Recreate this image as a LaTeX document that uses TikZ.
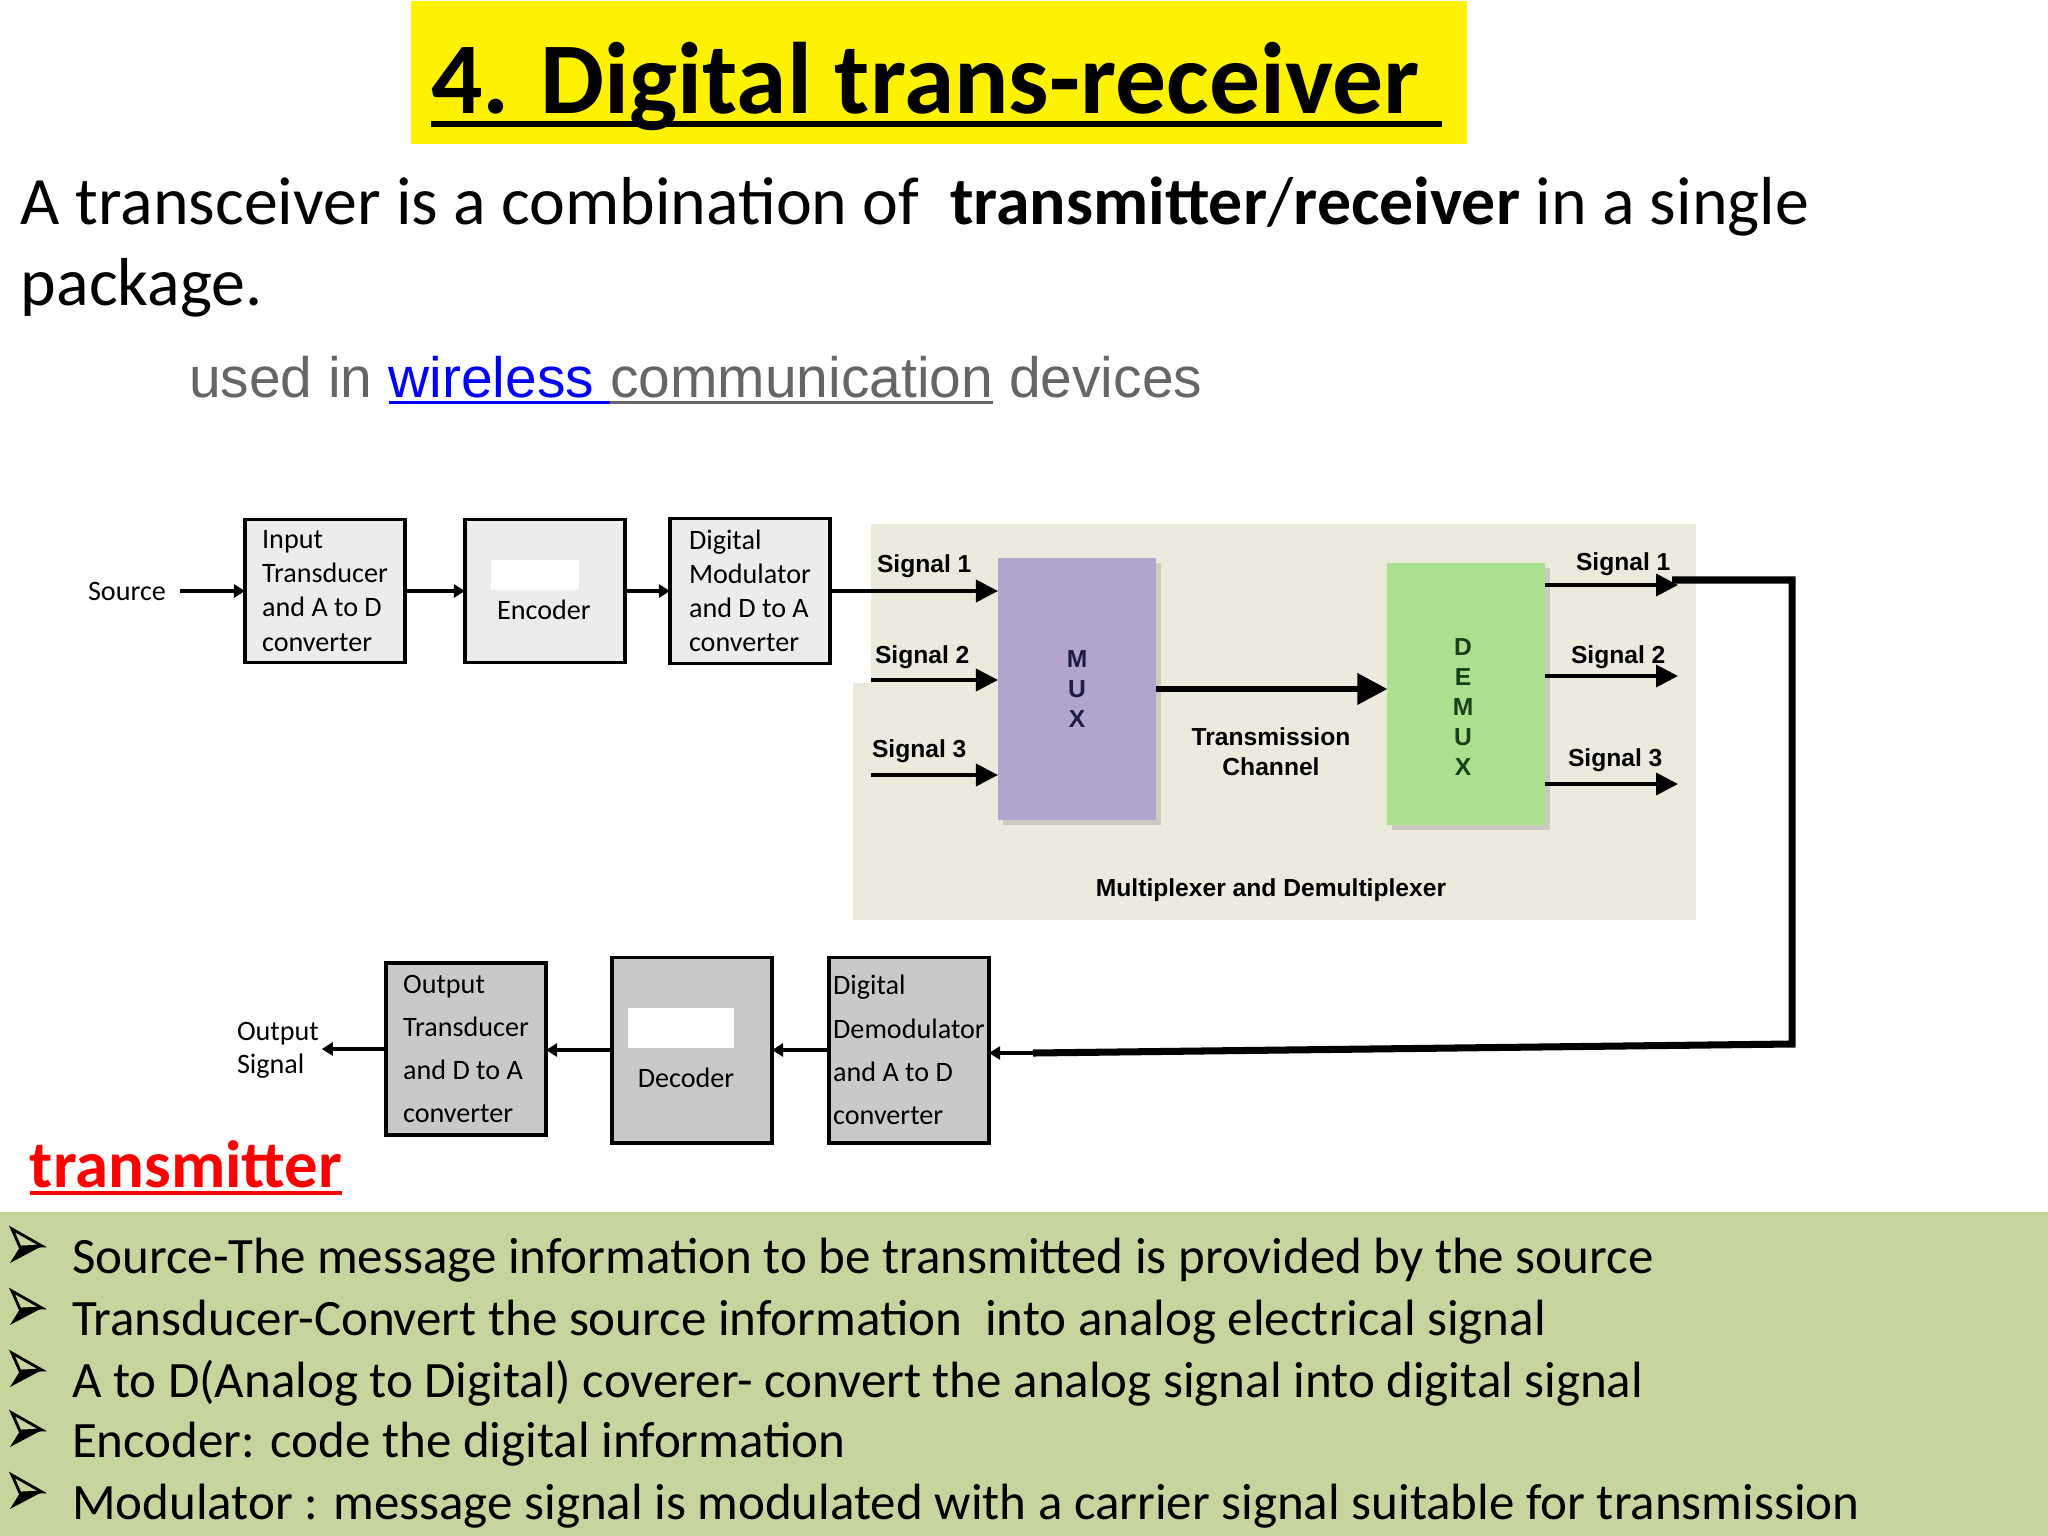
\documentclass[tikz,border=0pt]{standalone}
\usepackage{fontspec}
\setmainfont{Carlito}
\newfontfamily\arial{Liberation Sans}
\usepackage{xcolor}
\definecolor{panel}{RGB}{236,234,221}
\definecolor{muxcol}{RGB}{177,164,205}
\definecolor{demuxcol}{RGB}{169,225,142}
\definecolor{band}{RGB}{196,214,158}
\definecolor{boxtop}{RGB}{236,236,236}
\definecolor{boxbot}{RGB}{201,201,201}
\definecolor{usedgray}{RGB}{102,102,102}
\definecolor{muxtxt}{RGB}{30,28,70}
\definecolor{demuxtxt}{RGB}{25,65,25}
\usetikzlibrary{positioning}
\usetikzlibrary{arrows.meta,shadows}
% arrowhead bullet, #1 = baseline of its line
\newcommand{\arrowmark}[1]{%
  \draw[line width=0.8pt,line join=miter] (12,#1-44) -- (42,#1-27) -- (20,#1-26) -- cycle;
  \fill (20,#1-26) -- (42,#1-27) -- (10,#1-10) -- cycle;}

\begin{document}
\begin{tikzpicture}[x=0.01cm,y=-0.01cm,
  every node/.style={inner sep=0,outer sep=0},
  cal/.style={font=\fontsize{8}{9.7}\selectfont},
  ari/.style={font=\arial\bfseries\fontsize{7}{8.5}\selectfont},
  usedf/.style={font=\arial\fontsize{16.2}{19}\selectfont,text=usedgray},
  itm/.style={anchor=base west,font=\fontsize{14.5}{17}\selectfont},
  topbox/.style={draw,line width=1.1pt,fill=boxtop,minimum width=1.6cm,minimum height=1.43cm,
    align=left,cal},
  botbox/.style={draw,line width=1.1pt,fill=boxbot,minimum width=1.6cm,minimum height=1.85cm,
    align=left,font=\fontsize{8}{12.3}\selectfont},
  shade/.style={drop shadow={shadow xshift=0.05cm,shadow yshift=-0.05cm,opacity=0.3}},
  arr/.style={-{Triangle[length=0.11cm,width=0.13cm]},line width=1.2pt},
  sig/.style={-{Triangle[length=0.22cm,width=0.22cm]},line width=1.1pt},
  tx/.style={-{Triangle[length=0.3cm,width=0.3cm]},line width=1.8pt},
  fb/.style={line width=2pt}
]
\useasboundingbox (0,0) rectangle (2048,1536);

% heading
\fill[yellow] (411,1) rectangle (1467,144);
\node[anchor=base west,font=\bfseries\fontsize{28.9}{35}\selectfont] (ttl) at (431,113) {4. Digital trans-receiver};
\draw[line width=1.7pt] ([yshift=-3pt]ttl.base west) -- ([yshift=-3pt,xshift=0.22cm]ttl.base east);

\node[anchor=base west,font=\fontsize{19.3}{23}\selectfont] (l1) at (21,224)
  {A transceiver is a combination of~ \textbf{transmitter}/\textbf{receiver} in a single};
\node[anchor=base west,font=\fontsize{19.3}{23}\selectfont] (l2) at (21,305) {package.};

\node[usedf,anchor=base west] (used) at (189,397) {used in};
\node[usedf,text=blue,base right=4.5pt of used] (wl) {wireless};
\node[usedf,base right=4.5pt of wl] (comm) {communication};
\node[usedf,base right=4.5pt of comm] (dev) {devices};
\draw[blue,line width=0.85pt] ([yshift=-1.5pt]wl.base west) -- ([yshift=-1.5pt]comm.base west);
\draw[usedgray,line width=0.85pt] ([yshift=-1.5pt]comm.base west) -- ([yshift=-1.5pt]comm.base east);

% mux / demux panel
\fill[panel] (871,524) -- (1696,524) -- (1696,920) -- (853,920) -- (853,683) -- (871,683) -- cycle;

% transmitter row
\node[cal] (src) at (127,591) {Source};
\node[topbox] (in) at (325,591) {Input\\Transducer\\and A to D\\converter};
\node[topbox] (enc) at (545,591) {};
\node[fill=white,minimum width=0.88cm,minimum height=0.3cm] (encw) at (535,575) {};
\node[cal] (enct) at (544,610) {Encoder};
\node[topbox,minimum height=1.45cm] (mod) at (750,591) {Digital\\Modulator\\and D to A\\converter};
\draw[arr,shorten <=0.14cm] (src) -- (in);
\draw[arr] (in) -- (enc);
\draw[arr] (enc) -- (mod);

\node[fill=muxcol,minimum width=1.58cm,minimum height=2.62cm,shade,ari,text=muxtxt,align=center] (mux) at (1077,689) {M\\U\\X};
\node[fill=demuxcol,minimum width=1.57cm,minimum height=2.62cm,shade] (demux) at (1466,694) {};
\node[ari,text=demuxtxt,align=center] (dmx) at (1463,707) {D\\E\\M\\U\\X};

\coordinate (i2) at (871,680);
\coordinate (i3) at (871,775);
\draw[sig] (mod.east) -- (mux.west |- mod.east);
\draw[sig] (i2) -- (mux.west |- i2);
\draw[sig] (i3) -- (mux.west |- i3);
\node[ari,anchor=base west] (s1) at (877,572) {Signal 1};
\node[ari,anchor=base west] (s2) at (875,663) {Signal 2};
\node[ari,anchor=base west] (s3) at (872,757) {Signal 3};

\draw[tx] (mux.east) -- (demux.west |- mux.east);
\node[ari,align=center] (chan) at (1271,752) {Transmission\\Channel};

\coordinate (o1) at (1678,585);
\coordinate (o2) at (1678,676);
\coordinate (o3) at (1678,784);
\draw[sig] (demux.east |- o1) -- (o1);
\draw[sig] (demux.east |- o2) -- (o2);
\draw[sig] (demux.east |- o3) -- (o3);
\node[ari,anchor=base west] (r1) at (1576,570) {Signal 1};
\node[ari,anchor=base west] (r2) at (1571,663) {Signal 2};
\node[ari,anchor=base west] (r3) at (1568,766) {Signal 3};
\node[ari,anchor=base] (mcap) at (1271,896) {Multiplexer and Demultiplexer};

% back to the receiver
\coordinate (fb0) at (1672,580);
\coordinate (fb1) at (1792,580);
\coordinate (fb2) at (1792,1044);
\coordinate (fb3) at (1033,1053);
\coordinate (fb4) at (1050,1053);
\draw[fb] (fb0) -- (fb1) -- (fb2) -- (fb3);

% receiver row
\node[botbox] (dem) at (909,1050) {Digital\\Demodulator\\and A to D\\converter};
\node[botbox] (dec) at (692,1050) {};
\node[fill=white,minimum width=1.06cm,minimum height=0.4cm] (decw) at (681,1028) {};
\node[cal] (dect) at (686,1078) {Decoder};
\node[botbox,minimum height=1.72cm] (out) at (466,1049) {Output\\Transducer\\and D to A\\converter};
\node[cal,align=left,anchor=west,font=\fontsize{8}{9.4}\selectfont] (osig) at (237,1050) {Output\\Signal};
\draw[arr] (fb4) -- (dem.east |- fb4);
\draw[arr] (dem) -- (dec);
\draw[arr] (dec.west) -- (out.east |- dec.west);
\draw[arr,shorten >=0.03cm] (out.west) -- (osig.east |- out.west);

% notes
\node[anchor=base west,font=\bfseries\fontsize{19}{23}\selectfont,text=red] (txr) at (30,1187) {transmitter};
\draw[red,line width=1.1pt] ([yshift=-1.8pt]txr.base west) -- ([yshift=-1.8pt]txr.base east);

\fill[band] (0,1212) rectangle (2048,1536);
\arrowmark{1273}
\arrowmark{1335}
\arrowmark{1397}
\arrowmark{1457}
\arrowmark{1519}
\node[itm] (t1) at (72,1273) {Source-The message information to be transmitted is provided by the source};
\node[itm] (t2) at (72,1335) {Transducer-Convert the source information~ into analog electrical signal};
\node[itm] (t3) at (72,1397) {A to D(Analog to Digital) coverer- convert the analog signal into digital signal};
\node[itm] (t4) at (72,1457) {Encoder: code the digital information};
\node[itm] (t5) at (72,1519) {Modulator : message signal is modulated with a carrier signal suitable for transmission};
\end{tikzpicture}
\end{document}
